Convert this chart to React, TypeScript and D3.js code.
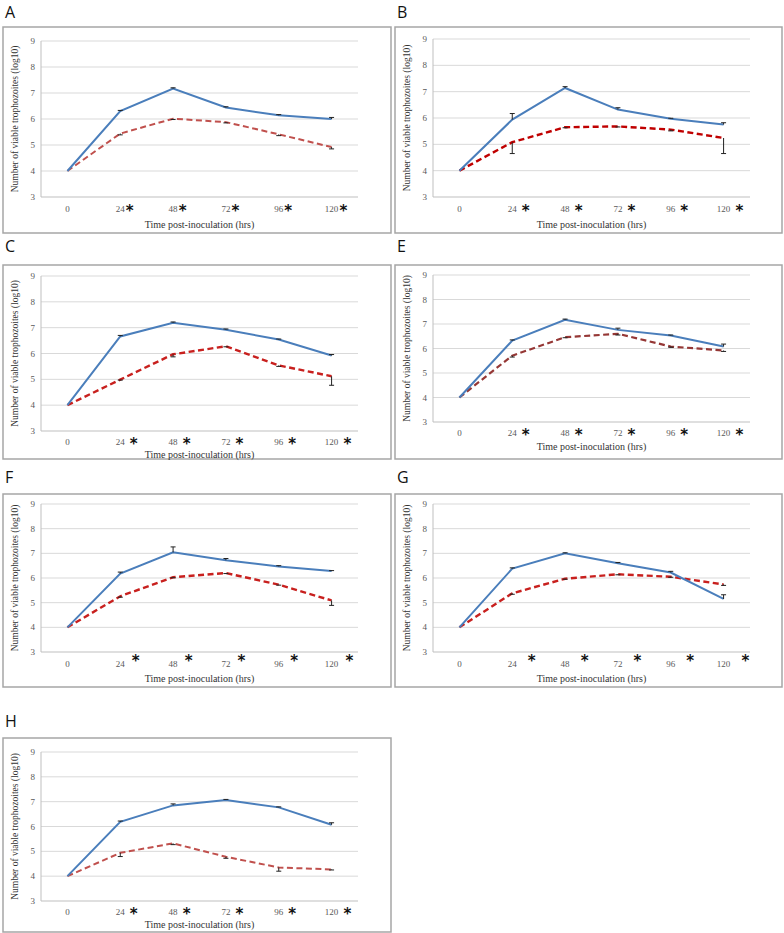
import React from 'react';
import * as d3 from 'd3';

// ---------- data ----------
const hours = ['0', '24', '48', '72', '96', '120'];
const yTicks = [3, 4, 5, 6, 7, 8, 9];
const panelIds = ['A', 'B', 'C', 'E', 'F', 'G', 'H'];

const blueA = [4.0, 6.3, 7.17, 6.44, 6.14, 6.0];
const redA = [4.0, 5.44, 6.01, 5.88, 5.41, 4.92];
const blueErrA = [0, 0.03, 0.03, 0.03, 0.03, 0.06];
const redErrA = [0, 0.05, 0.03, 0.03, 0.05, 0.07];

const blueB = [4.0, 5.94, 7.14, 6.32, 5.97, 5.75];
const redB = [4.0, 5.08, 5.65, 5.68, 5.56, 5.24];
const blueErrB = [0, 0.23, 0.05, 0.07, 0.02, 0.07];
const redErrB = [0, 0.43, 0.02, 0.02, 0.05, 0.59];

const blueC = [4.0, 6.66, 7.19, 6.92, 6.54, 5.92];
const redC = [4.0, 4.99, 5.97, 6.28, 5.54, 5.12];
const blueErrC = [0, 0.04, 0.03, 0.03, 0.02, 0.04];
const redErrC = [0, 0.02, 0.1, 0.02, 0.04, 0.35];

const blueE = [4.0, 6.32, 7.17, 6.76, 6.53, 6.08];
const redE = [4.0, 5.71, 6.46, 6.6, 6.08, 5.92];
const blueErrE = [0, 0.03, 0.03, 0.07, 0.02, 0.1];
const redErrE = [0, 0.06, 0.02, 0.05, 0.03, 0.04];

const blueF = [4.0, 6.18, 7.04, 6.72, 6.47, 6.28];
const redF = [4.0, 5.26, 6.03, 6.2, 5.73, 5.09];
const blueErrF = [0, 0.06, 0.22, 0.07, 0.03, 0.02];
const redErrF = [0, 0.04, 0.02, 0.02, 0.02, 0.2];

const blueG = [4.0, 6.38, 7.0, 6.6, 6.22, 5.15];
const redG = [4.0, 5.38, 5.97, 6.15, 6.05, 5.74];
const blueErrG = [0, 0.03, 0.02, 0.03, 0.05, 0.17];
const redErrG = [0, 0.04, 0.02, 0.02, 0.02, 0.04];

const blueH = [4.0, 6.19, 6.85, 7.07, 6.77, 6.07];
const redH = [4.0, 4.94, 5.32, 4.78, 4.35, 4.27];
const blueErrH = [0, 0.03, 0.06, 0.02, 0.02, 0.08];
const redErrH = [0, 0.15, 0.05, 0.06, 0.15, 0.02];

const blueSeries = [blueA, blueB, blueC, blueE, blueF, blueG, blueH];
const redSeries = [redA, redB, redC, redE, redF, redG, redH];
const blueErrs = [blueErrA, blueErrB, blueErrC, blueErrE, blueErrF, blueErrG, blueErrH];
const redErrs = [redErrA, redErrB, redErrC, redErrE, redErrF, redErrG, redErrH];

const yTitle = 'Number of viable trophozoites (log10)';
const xTitle = 'Time post-inoculation (hrs)';

// ---------- layout / style ----------
const layouts = [
  { x: 3, y: 27, w: 388, h: 206, top: 14, bottom: 170, letterY: 12, tickDy: 12, titleDy: 27, starGap: 1, starDy: 0, red: '#C0504D', redW: 2 },
  { x: 395, y: 27, w: 387, h: 206, top: 12, bottom: 170, letterY: 12, tickDy: 12, titleDy: 27, starGap: 5, starDy: 0, red: '#C00000', redW: 2.4 },
  { x: 3, y: 265, w: 388, h: 194, top: 11, bottom: 166, letterY: 246, tickDy: 11, titleDy: 23, starGap: 5, starDy: 0, red: '#C8201E', redW: 2.4 },
  { x: 395, y: 265, w: 387, h: 194, top: 10, bottom: 157, letterY: 246, tickDy: 11, titleDy: 24, starGap: 5, starDy: 0, red: '#953735', redW: 2.2 },
  { x: 3, y: 494, w: 388, h: 193, top: 10, bottom: 158, letterY: 477, tickDy: 12, titleDy: 26, starGap: 7, starDy: -5, red: '#C8201E', redW: 2.4 },
  { x: 395, y: 494, w: 387, h: 193, top: 10, bottom: 158, letterY: 477, tickDy: 12, titleDy: 26, starGap: 11, starDy: -5, red: '#C8201E', redW: 2.4 },
  { x: 3, y: 738, w: 388, h: 194, top: 14, bottom: 163, letterY: 721, tickDy: 11, titleDy: 23, starGap: 5, starDy: 0, red: '#C0504D', redW: 2 },
];

const BLUE = '#4A7EBB';
const SERIF = '"Liberation Serif", "DejaVu Serif", serif';

function Panel({ idx }: { idx: number }) {
  const L = layouts[idx];
  const left = L.x + 38;
  const right = L.x + 355;
  const top = L.y + L.top;
  const bottom = L.y + L.bottom;
  const x = d3.scalePoint<string>().domain(hours).range([left, right]).padding(0.5);
  const y = d3.scaleLinear().domain([3, 9]).range([bottom, top]);
  const line = d3
    .line<number>()
    .x((_, i) => x(hours[i]) as number)
    .y((d) => y(d));
  const blue = blueSeries[idx];
  const red = redSeries[idx];
  const be = blueErrs[idx];
  const re = redErrs[idx];
  const errBar = (v: number, e: number, dir: number, i: number, key: string) => {
    if (!e) return null;
    const cx = x(hours[i]) as number;
    const y0 = y(v);
    const y1 = y(v + dir * e);
    return (
      <g key={key} stroke="#222" strokeWidth={1}>
        <line x1={cx} x2={cx} y1={y0} y2={y1} />
        <line x1={cx - 2.5} x2={cx + 2.5} y1={y1} y2={y1} />
      </g>
    );
  };
  return (
    <g>
      <text x={L.x + 2} y={L.letterY} dy="0.35em" fontFamily="'Open Sans', 'Noto Sans', sans-serif" fontSize={16} fill="#111">
        {panelIds[idx]}
      </text>
      <rect x={L.x} y={L.y} width={L.w} height={L.h} fill="white" stroke="#A6A6A6" strokeWidth={1.5} />
      {yTicks.map((t) => (
        <g key={t}>
          <line x1={left} x2={right} y1={y(t)} y2={y(t)} stroke={t === 3 ? '#BFBFBF' : '#D9D9D9'} strokeWidth={1} />
          <text x={left - 6} y={y(t)} dy="0.35em" textAnchor="end" fontFamily={SERIF} fontSize={9} fill="#595959">
            {t}
          </text>
        </g>
      ))}
      <line x1={left} x2={left} y1={top} y2={bottom} stroke="#BFBFBF" strokeWidth={1} />
      {hours.map((h, i) => {
        const cx = x(h) as number;
        const ty = bottom + L.tickDy;
        const halfW = h.length * 2.3;
        return (
          <g key={h}>
            <text x={cx} y={ty} dy="0.35em" textAnchor="middle" fontFamily={SERIF} fontSize={9} fill="#595959">
              {h}
            </text>
            {i > 0 && (
              <text x={cx + halfW + L.starGap} y={ty + 2 + L.starDy} dy="0.35em" fontFamily="'DejaVu Sans', 'Liberation Sans', sans-serif" fontWeight="bold" fontSize={15} fill="#111">
                *
              </text>
            )}
          </g>
        );
      })}
      <text x={(left + right) / 2} y={bottom + L.titleDy} dy="0.35em" textAnchor="middle" fontFamily={SERIF} fontSize={10} fill="#333">
        {xTitle}
      </text>
      <text
        transform={`translate(${L.x + 12},${(top + bottom) / 2}) rotate(-90)`}
        dy="0.35em"
        textAnchor="middle"
        fontFamily={SERIF}
        fontSize={9.5}
        fill="#333"
      >
        {yTitle}
      </text>
      <path d={line(red) || ''} fill="none" stroke={L.red} strokeWidth={L.redW} strokeDasharray="6,3.5" />
      <path d={line(blue) || ''} fill="none" stroke={BLUE} strokeWidth={2} />
      {red.map((v, i) => errBar(v, re[i], -1, i, 'r' + i))}
      {blue.map((v, i) => errBar(v, be[i], 1, i, 'b' + i))}
    </g>
  );
}

export default function App() {
  return (
    <svg width={784} height={933} style={{ position: 'absolute', left: 0, top: 0, background: 'white' }}>
      <rect width={784} height={933} fill="white" />
      {panelIds.map((_, i) => (
        <Panel key={i} idx={i} />
      ))}
    </svg>
  );
}
